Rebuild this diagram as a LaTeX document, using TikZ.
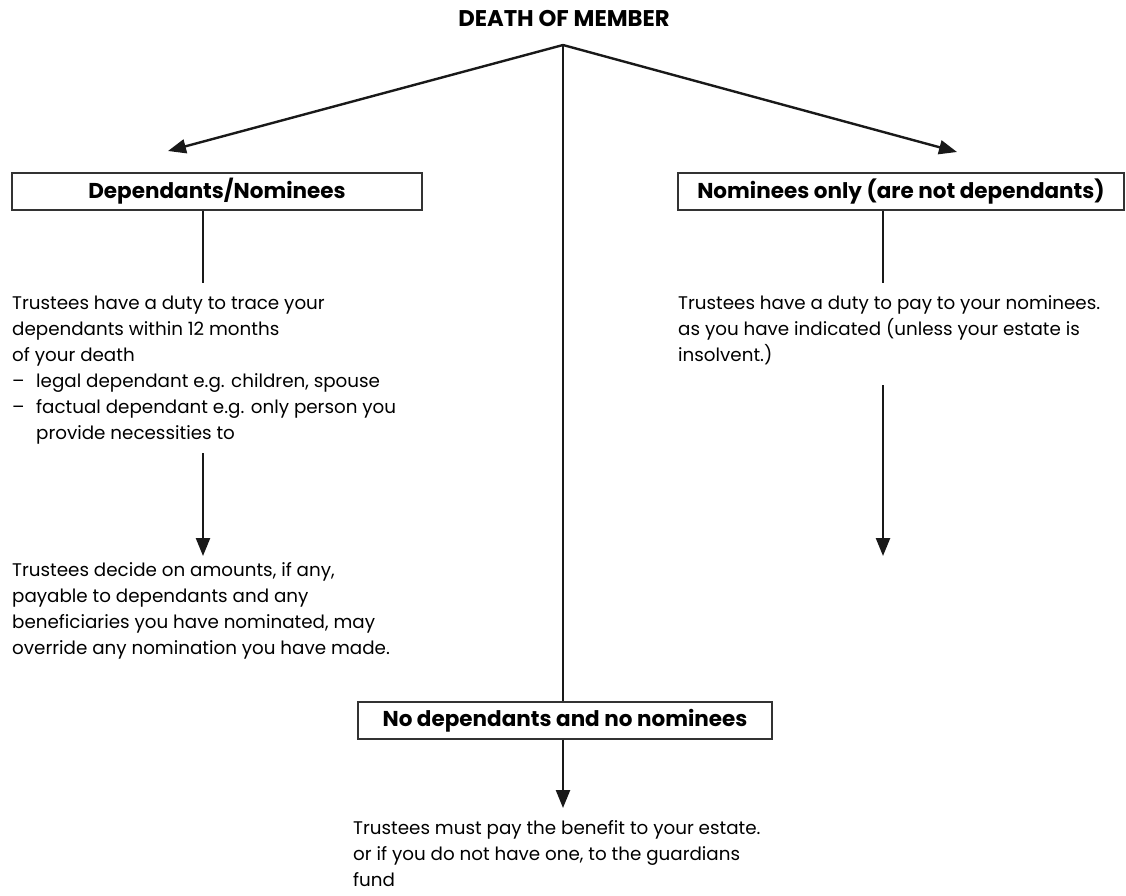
\documentclass[tikz,border=0pt]{standalone}
\usepackage{fontspec}
\setmainfont{Poppins}
\usetikzlibrary{arrows.meta}
\begin{document}
\begin{tikzpicture}[x=1pt,y=-1pt,
  headbox/.style={draw=black!80,line width=1.4pt,inner sep=0pt,minimum height=37pt,
    font=\bfseries\fontsize{21.5}{24}\selectfont},
  bodytext/.style={anchor=base west,align=left,inner sep=0pt,
    font=\fontsize{18.3}{26}\selectfont},
  link/.style={black!90,line width=2.4pt},
  arrow/.style={link,-{Triangle[length=18pt,width=14pt]}}]
\useasboundingbox (0,0) rectangle (1126,895);
% heading and the three branches
\node[font=\bfseries\fontsize{22.7}{25}\selectfont] (death) at (564,18) {DEATH OF MEMBER};
\coordinate (apex) at (563,45);
\node[headbox,minimum width=410pt] (dep) at (217,191.5) {Dependants/Nominees};
\node[headbox,minimum width=446pt] (nom) at (901,191.5) {Nominees only (are not dependants)};
\node[headbox,minimum width=414pt] (none) at (565,720.5) {No dependants and no nominees};
\coordinate (depend) at (168,151);
\coordinate (nomend) at (957,152);
\draw [arrow] (apex) -- (depend);
\draw [arrow] (apex) -- (nomend);
\draw [link] (apex) -- (apex |- none.north);
% left column (base west = baseline of the last line)
\node[bodytext] (trace) at (12,439) {Trustees have a duty to trace your\\
  dependants within 12 months\\
  of your death\\
  \makebox[24pt][l]{--}legal dependant e.g. children, spouse\\
  \makebox[24pt][l]{--}factual dependant e.g. only person you\\
  \hspace*{24pt}provide necessities to};
\node[bodytext] (decide) at (12,654) {Trustees decide on amounts, if any,\\
  payable to dependants and any\\
  beneficiaries you have nominated, may\\
  override any nomination you have made.};
\coordinate (depfoot) at (203,283);
\coordinate (deparr) at (203,453);
\draw [link] (depfoot |- dep.south) -- (depfoot);
\draw [arrow] (deparr) -- (deparr |- 0,556);
% right column
\node[bodytext] (pay) at (678,361) {Trustees have a duty to pay to your nominees.\\
  as you have indicated (unless your estate is\\
  insolvent.)};
\coordinate (nomfoot) at (883,283);
\coordinate (nomarr) at (883,385);
\draw [link] (nomfoot |- nom.south) -- (nomfoot);
\draw [arrow] (nomarr) -- (nomarr |- 0,556);
% bottom
\node[bodytext] (estate) at (353,886) {Trustees must pay the benefit to your estate.\\
  or if you do not have one, to the guardians\\
  fund};
\coordinate (nonearr) at (563,808);
\draw [arrow] (nonearr |- none.south) -- (nonearr);
\end{tikzpicture}
\end{document}
